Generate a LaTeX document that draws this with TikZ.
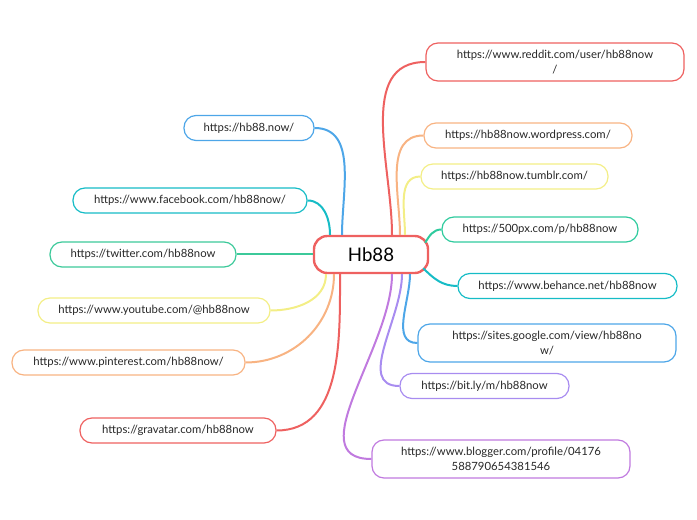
\documentclass[tikz,border=0pt]{standalone}
\usepackage{fontspec}
\setmainfont{Lato}
\definecolor{cred}{HTML}{EE6160}
\definecolor{corange}{HTML}{F8B382}
\definecolor{cyellow}{HTML}{F3EE86}
\definecolor{cgreen}{HTML}{2FCB9E}
\definecolor{ccyan}{HTML}{16BCC6}
\definecolor{cblue}{HTML}{4DA6E8}
\definecolor{cpurple}{HTML}{A88CF0}
\definecolor{cviolet}{HTML}{C07ADF}
\definecolor{ctwit}{HTML}{3CC99A}
\begin{document}
\begin{tikzpicture}[x=0.75pt,y=-0.75pt,
  box/.style={draw=#1,line width=0.9pt,rounded corners=9pt,minimum height=18.75pt,inner sep=0pt,align=center,font=\fontsize{8.5}{11}\selectfont,text=black!85},
  tall/.style={minimum height=28.5pt},
  con/.style={draw=#1,line width=1.5pt}]
\useasboundingbox (0,0) rectangle (697,520);
\node[draw=cred,line width=1.8pt,rounded corners=10pt,minimum width=85.5pt,minimum height=27.75pt,font=\fontsize{14}{16}\selectfont] (c) at (371,254.5) {Hb88};
% right
\node[box=cred,tall,minimum width=193.5pt] (r1) at (555,62) {https://www.reddit.com/user/hb88now\\/};
\node[box=corange,minimum width=156pt] (r2) at (528,135.5) {https://hb88now.wordpress.com/};
\node[box=cyellow,minimum width=140.25pt] (r3) at (514.5,176.5) {https://hb88now.tumblr.com/};
\node[box=cgreen,minimum width=147pt] (r4) at (540,229.5) {https://500px.com/p/hb88now};
\node[box=ccyan,minimum width=164.25pt] (r5) at (567.5,286) {https://www.behance.net/hb88now};
\node[box=cblue,tall,minimum width=193.5pt] (r6) at (547,343) {https://sites.google.com/view/hb88no\\w/};
\node[box=cpurple,minimum width=126.75pt] (r7) at (484.5,386) {https://bit.ly/m/hb88now};
\node[box=cviolet,tall,minimum width=193.5pt] (r8) at (501,459) {https://www.blogger.com/profile/04176\\588790654381546};
% left
\node[box=cblue,minimum width=97.5pt] (l1) at (249,128) {https://hb88.now/};
\node[box=ccyan,minimum width=175.5pt] (l2) at (190,200.5) {https://www.facebook.com/hb88now/};
\node[box=ctwit,minimum width=139.5pt] (l3) at (143,254.5) {https://twitter.com/hb88now};
\node[box=cyellow,minimum width=174pt] (l4) at (154,310.5) {https://www.youtube.com/@hb88now};
\node[box=corange,minimum width=174.75pt] (l5) at (128.5,362.5) {https://www.pinterest.com/hb88now/};
\node[box=cred,minimum width=147pt] (l6) at (178,430.5) {https://gravatar.com/hb88now};
% connectors right
\draw[con=cred] (c.north west -| 392,0) to[out=90,in=180] (r1.west);
\draw[con=corange] (c.north west -| 400,0) to[out=90,in=180] (r2.west);
\draw[con=cyellow] (c.north west -| 405,0) to[out=90,in=180] (r3.west);
\draw[con=cgreen] (c.north east) ++(-4,8) to[out=60,in=180] (r4.west);
\draw[con=ccyan] (c.south east) ++(-6,-6) to[out=-45,in=180] (r5.west);
\draw[con=cblue] (c.south west -| 410,0) to[out=-90,in=180] (r6.west);
\draw[con=cpurple] (c.south west -| 402,0) to[out=-90,in=180] (r7.west);
\draw[con=cviolet] (c.south west -| 392,0) to[out=-90,in=180] (r8.west);
% connectors left
\draw[con=cblue] (c.north west -| 342,0) to[out=90,in=0] (l1.east);
\draw[con=ccyan] (c.north west -| 330,0) to[out=90,in=0] (l2.east);
\draw[con=ctwit] (l3.east) -- (c.west);
\draw[con=cyellow] (c.south west -| 326,0) to[out=-90,in=0] (l4.east);
\draw[con=corange] (c.south west -| 334,0) to[out=-90,in=0] (l5.east);
\draw[con=cred] (c.south west -| 340,0) to[out=-90,in=0] (l6.east);
\end{tikzpicture}
\end{document}
